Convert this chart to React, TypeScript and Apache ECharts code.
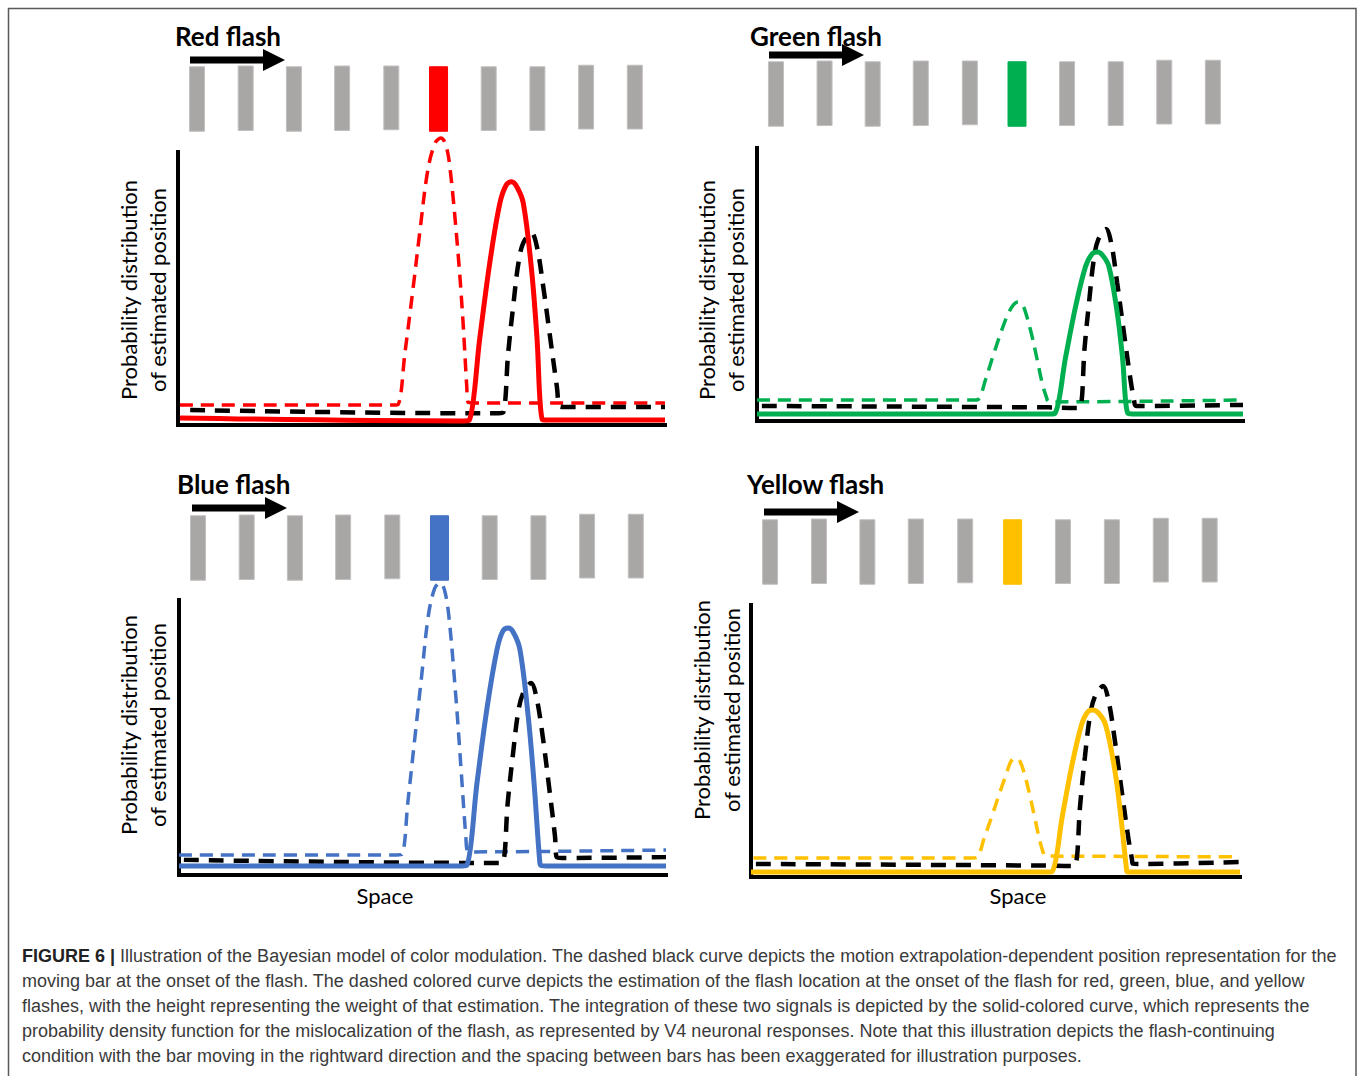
import React, { useEffect, useRef } from "react";
import * as echarts from "echarts";

// ---------- data ----------
const titles = ["Red flash", "Green flash", "Blue flash", "Yellow flash"];
const flashColors = ["#ff0000", "#00b050", "#4472c4", "#ffc000"];

// bar stimulus strip (x in "space" units, y in strip units)
const barPositions = [3.9, 13.9, 23.8, 33.7, 43.8, 53.5, 63.8, 73.8, 83.8, 93.8];
const barTops = [91, 92, 91, 92, 92, 91, 91, 91, 93, 93];
const barBottoms = [5, 6, 5, 6, 7, 5, 6, 6, 8, 8];
const flashIndex = 5;

// Red panel
const redFlashEstimate = [[0.4, 7.3], [44.2, 7.3], [45.2, 7.5], [46.6, 26.4], [48.3, 50.5], [49.7, 71.4], [51.3, 93.4], [52.8, 103.3], [54, 105.1], [55, 102.6], [55.9, 93.4], [57.5, 63], [58.5, 38.5], [59.3, 13.9], [59.6, 8.3], [60.6, 8.1], [100, 8.1]];
const redIntegrated = [[0.4, 2.6], [58.8, 1.5], [59.8, 1.7], [62.0, 32.3], [64.1, 60.4], [66.1, 81.3], [67.4, 87.9], [68.5, 89.1], [69.6, 87.2], [70.9, 81.3], [72.6, 56.8], [73.7, 32.3], [74.8, 2.0], [75.8, 1.8], [100, 1.8]];
const redMotion = [[2.5, 5.5], [60, 4.3], [65.8, 4.3], [66.8, 4.6], [67.8, 26.4], [68.9, 44.7], [69.9, 59.3], [70.9, 66.7], [72.6, 70.3], [73.7, 65.3], [75, 50.7], [76.4, 32.3], [77.8, 14], [78.4, 6.8], [79.4, 6.6], [100, 6.6]];

// Green panel
const greenFlashEstimate = [[0, 7.7], [44.5, 7.7], [45.5, 7.9], [47.0, 15], [48.6, 24], [50.2, 32.5], [51.6, 39], [52.8, 42.6], [53.7, 43.6], [54.6, 42.6], [55.4, 39], [56.6, 31], [57.7, 22], [58.8, 13], [59.6, 8.5], [59.9, 7.2], [60.9, 7.0], [100, 7.7]];
const greenIntegrated = [[0, 2.6], [60.3, 2.6], [61.3, 2.8], [63.5, 23.4], [65.6, 42.3], [67.6, 56.6], [68.9, 61.1], [70.0, 61.9], [71.1, 60.7], [72.4, 56.6], [74.1, 40], [75.2, 23.4], [76.3, 2.8], [77.3, 2.6], [100, 2.6]];
const greenMotion = [[1, 5.5], [60, 5], [65.5, 4.8], [66.5, 5.0], [67.4, 26.7], [68.4, 44.8], [69.3, 59.2], [70.2, 66.4], [71.8, 70.3], [72.9, 65], [74.1, 50.7], [75.5, 32.3], [76.9, 14.6], [77.6, 7.4], [77.9, 5.6], [78.9, 5.5], [100, 5.9]];

// Blue panel
const blueFlashEstimate = [[0, 7.3], [44.8, 7.3], [45.8, 7.5], [47.0, 26.6], [48.5, 51], [49.8, 72], [51.2, 94.3], [52.5, 104.2], [53.6, 106.2], [54.5, 103.7], [55.4, 94.3], [56.9, 63.7], [57.9, 38.9], [58.9, 13.9], [59.3, 8.6], [60.3, 8.4], [100, 9.1]];
const blueIntegrated = [[0, 3.3], [58.1, 3.3], [59.1, 3.5], [61.2, 33.6], [63.3, 61.3], [65.3, 82], [66.5, 88.7], [67.6, 89.8], [68.7, 88.1], [70.0, 82], [71.7, 57.8], [72.9, 33.6], [74.1, 4.4], [74.4, 3.4], [75.4, 3.3], [100, 3.3]];
const blueMotion = [[1, 5.5], [60, 4.4], [65.5, 4.4], [66.5, 4.6], [67.5, 26.3], [68.6, 44.3], [69.6, 58.7], [70.6, 65.9], [72.3, 69.8], [73.4, 64.6], [74.7, 50.2], [76.0, 31.9], [77.2, 14.2], [77.6, 6.4], [78.6, 6.2], [100, 6.5]];

// Yellow panel
const yellowFlashEstimate = [[0.5, 7], [45.2, 7], [46.2, 7.2], [47.7, 14.4], [49.3, 22.6], [50.9, 31.2], [52.3, 38.3], [53.1, 42.3], [54, 43.8], [54.9, 42.8], [55.7, 39.2], [56.9, 31], [58, 22], [59.1, 13], [59.8, 8.8], [60.1, 7.8], [61.1, 7.7], [100, 7.4]];
const yellowIntegrated = [[0, 1.8], [60.6, 1.8], [61.6, 2.0], [63.7, 22.7], [65.7, 41.7], [67.6, 56], [68.8, 60.6], [69.9, 61.4], [71.1, 60.2], [72.5, 56], [74.4, 39.3], [75.6, 22.7], [76.8, 2.6], [76.9, 1.9], [77.9, 1.8], [100, 1.8]];
const yellowMotion = [[1, 4.8], [60, 4.2], [65.3, 4], [66.3, 4.2], [67.3, 26.2], [68.3, 44.4], [69.3, 59], [70.3, 66.2], [72, 70.2], [73.1, 65], [74.4, 50.3], [75.8, 31.8], [77.2, 13.9], [77.9, 6.6], [78.1, 4.9], [79.1, 4.8], [100, 5.5]];

const flashEstimates = [redFlashEstimate, greenFlashEstimate, blueFlashEstimate, yellowFlashEstimate];
const integrated = [redIntegrated, greenIntegrated, blueIntegrated, yellowIntegrated];
const motion = [redMotion, greenMotion, blueMotion, yellowMotion];

const yLabelLines = ["Probability distribution", "of estimated position"];
const xLabel = "Space";

const captionLines = [
  "{b|FIGURE 6 |} Illustration of the Bayesian model of color modulation. The dashed black curve depicts the motion extrapolation-dependent position representation for the",
  "moving bar at the onset of the flash. The dashed colored curve depicts the estimation of the flash location at the onset of the flash for red, green, blue, and yellow",
  "flashes, with the height representing the weight of that estimation. The integration of these two signals is depicted by the solid-colored curve, which represents the",
  "probability density function for the mislocalization of the flash, as represented by V4 neuronal responses. Note that this illustration depicts the flash-continuing",
  "condition with the bar moving in the rightward direction and the spacing between bars has been exaggerated for illustration purposes.",
];

// ---------- layout ----------
const layouts = [
  { left: 178, top: 152, width: 487, height: 273, stripTop: 60, titleX: 175, titleY: 36, arrowX: 190, arrowY: 60, lab1X: 128, lab2X: 157, labY: 290, space: null as null | number[] },
  { left: 757, top: 148, width: 486, height: 273, stripTop: 55, titleX: 750, titleY: 36, arrowX: 769, arrowY: 55, lab1X: 706, lab2X: 735, labY: 290, space: null as null | number[] },
  { left: 179, top: 600, width: 487, height: 275, stripTop: 509, titleX: 177, titleY: 484, arrowX: 192, arrowY: 508, lab1X: 128, lab2X: 157, labY: 725, space: [385, 895] },
  { left: 751, top: 605, width: 489, height: 272, stripTop: 513, titleX: 747, titleY: 484, arrowX: 764, arrowY: 512, lab1X: 701, lab2X: 731, labY: 710, space: [1018, 895] },
];

const FONT = "Lato, 'Open Sans', sans-serif";
const CAPTION_FONT = "'Liberation Sans', Arial, sans-serif";

function buildOption() {
  const grid: any[] = [];
  const xAxis: any[] = [];
  const yAxis: any[] = [];
  const series: any[] = [];
  const graphic: any[] = [];

  graphic.push({
    type: "rect",
    silent: true,
    z: 0,
    shape: { x: 8.5, y: 8.5, width: 1347.5, height: 1090 },
    style: { fill: "rgba(0,0,0,0)", stroke: "#5a5a5a", lineWidth: 1.5 },
  });

  layouts.forEach((L, i) => {
    const color = flashColors[i];
    const gPlot = 2 * i;
    const gStrip = 2 * i + 1;
    grid.push({ left: L.left, top: L.top, width: L.width, height: L.height, containLabel: false });
    grid.push({ left: L.left, top: L.stripTop, width: L.width, height: 75, containLabel: false });

    xAxis.push({
      type: "value", gridIndex: gPlot, min: 0, max: 100,
      axisLine: { show: true, onZero: false, lineStyle: { color: "#000", width: 4, cap: "square" } },
      axisTick: { show: false }, axisLabel: { show: false }, splitLine: { show: false },
    });
    yAxis.push({
      type: "value", gridIndex: gPlot, min: 0, max: 100,
      axisLine: { show: true, onZero: false, lineStyle: { color: "#000", width: 4, cap: "square" } },
      axisTick: { show: false }, axisLabel: { show: false }, splitLine: { show: false },
    });
    xAxis.push({ type: "value", gridIndex: gStrip, min: 0, max: 100, show: false });
    yAxis.push({ type: "value", gridIndex: gStrip, min: 0, max: 100, show: false });

    const barData = barPositions.map((x, k) => [x, barBottoms[k], barTops[k], k === flashIndex ? 1 : 0]);
    series.push({
      type: "custom",
      xAxisIndex: gStrip,
      yAxisIndex: gStrip,
      silent: true,
      clip: false,
      data: barData,
      renderItem: (params: any, api: any) => {
        const x = api.value(0);
        const b = api.value(1);
        const t = api.value(2);
        const f = api.value(3);
        const p1 = api.coord([x, t]);
        const p2 = api.coord([x, b]);
        const w = f ? 18 : 15;
        return {
          type: "rect",
          shape: { x: p1[0] - w / 2, y: p1[1], width: w, height: p2[1] - p1[1] },
          style: { fill: f ? color : "#a9a6a6", stroke: f ? color : "#c2bfbf", lineWidth: 1 },
        };
      },
    });

    const common = {
      type: "line", xAxisIndex: gPlot, yAxisIndex: gPlot, symbol: "none", showSymbol: false,
      smooth: 0.35, clip: false, silent: true,
    };
    series.push({ ...common, name: "flash estimate", data: flashEstimates[i], z: 3, lineStyle: { color, width: 3.5, type: [13, 8] } });
    series.push({ ...common, name: "motion extrapolation", data: motion[i], z: 4, lineStyle: { color: "#000", width: 4.5, type: [15, 10] } });
    series.push({ ...common, name: "integrated", data: integrated[i], z: 5, lineStyle: { color, width: 5, type: "solid" } });

    // title
    graphic.push({
      type: "text", x: L.titleX, y: L.titleY, silent: true,
      style: { text: titles[i], fontFamily: FONT, fontWeight: "bold", fontSize: 26, fill: "#000", align: "left", verticalAlign: "middle" },
    });
    // arrow
    const ax = L.arrowX, ay = L.arrowY;
    graphic.push({
      type: "polygon", silent: true,
      shape: { points: [[ax, ay - 3.5], [ax + 73, ay - 3.5], [ax + 73, ay - 11], [ax + 95, ay], [ax + 73, ay + 11], [ax + 73, ay + 3.5], [ax, ay + 3.5]] },
      style: { fill: "#000" },
    });
    // y label
    [L.lab1X, L.lab2X].forEach((lx, k) => {
      graphic.push({
        type: "text", x: lx, y: L.labY, rotation: Math.PI / 2, silent: true,
        style: { text: yLabelLines[k], fontFamily: FONT, fontSize: 22, fill: "#000", align: "center", verticalAlign: "middle" },
      });
    });
    if (L.space) {
      graphic.push({
        type: "text", x: L.space[0], y: L.space[1], silent: true,
        style: { text: xLabel, fontFamily: FONT, fontSize: 22, fill: "#000", align: "center", verticalAlign: "middle" },
      });
    }
  });

  graphic.push({
    type: "text", x: 22, y: 943, silent: true,
    style: {
      text: captionLines.join("\n"),
      fontFamily: CAPTION_FONT,
      fontSize: 18,
      lineHeight: 25,
      fill: "#3a3a3a",
      align: "left",
      verticalAlign: "top",
      rich: {
        b: { fontFamily: CAPTION_FONT, fontSize: 18, fontWeight: "bold", fill: "#222", lineHeight: 25 },
      },
    },
  });

  return { animation: false, backgroundColor: "#ffffff", grid, xAxis, yAxis, series, graphic };
}

export default function App() {
  const ref = useRef<HTMLDivElement>(null);
  useEffect(() => {
    if (!ref.current) return;
    const chart = echarts.init(ref.current, undefined, { renderer: "svg" });
    chart.setOption(buildOption() as any);
    return () => chart.dispose();
  }, []);
  return <div ref={ref} style={{ position: "absolute", left: 0, top: 0, width: 1358, height: 1076 }} />;
}
